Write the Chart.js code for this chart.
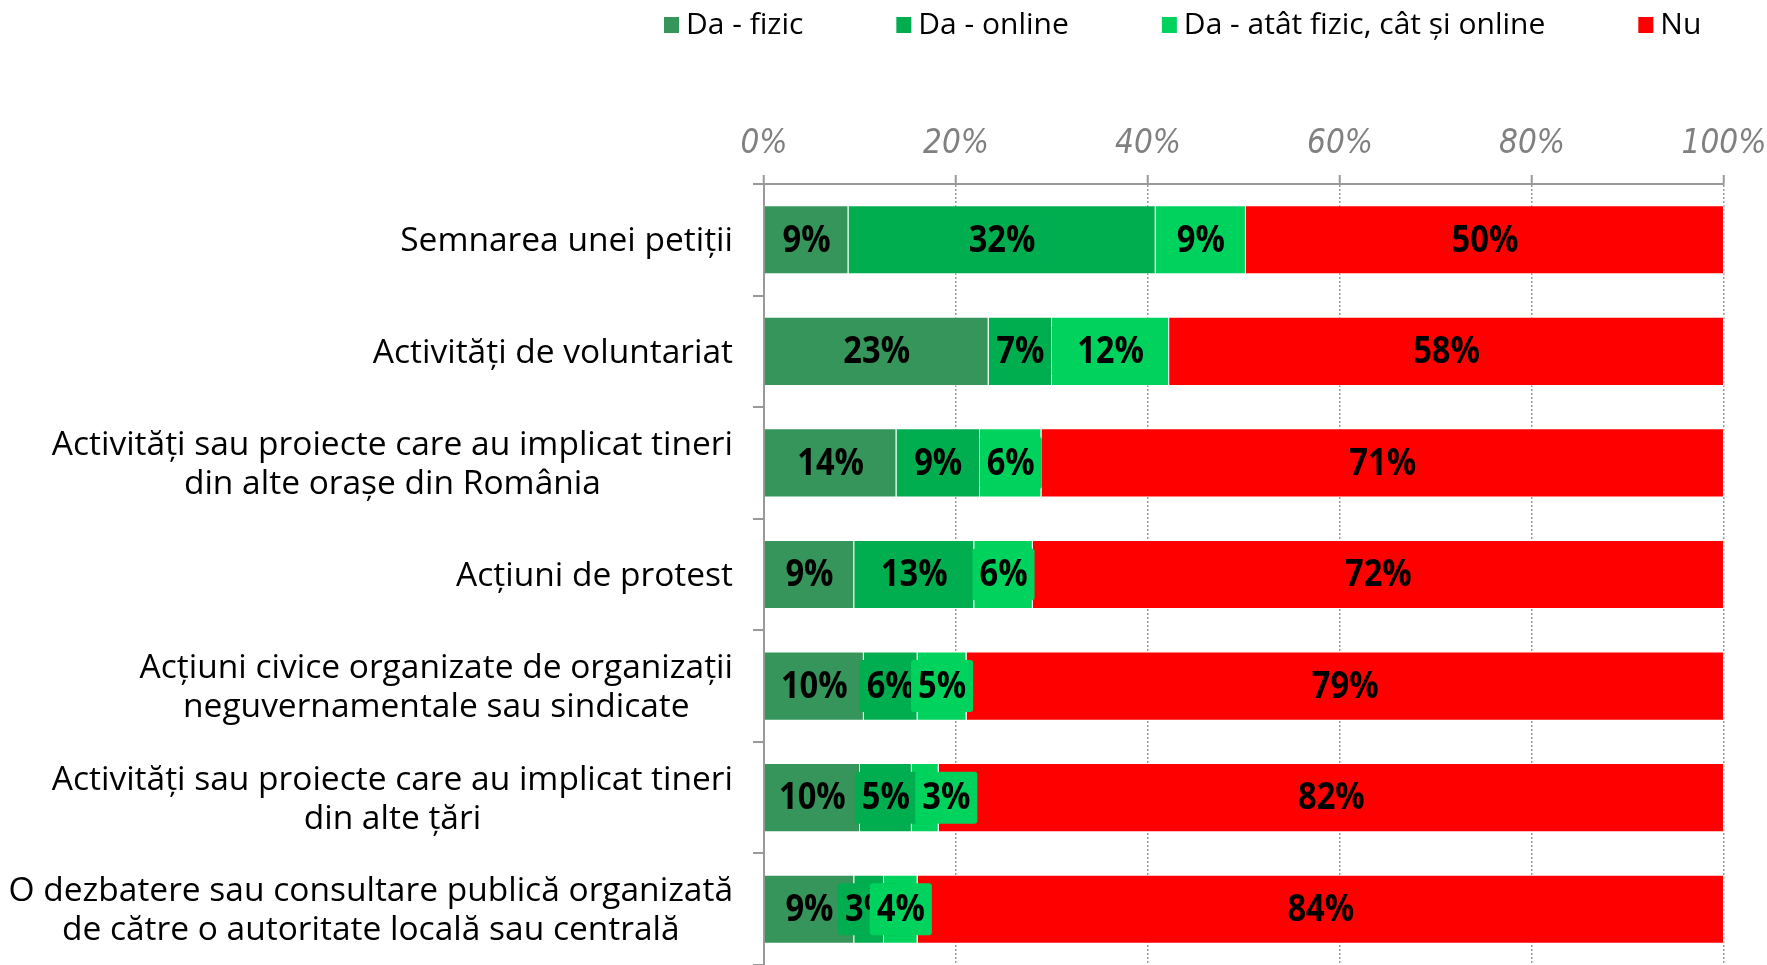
<!DOCTYPE html>
<html>
<head>
<meta charset="utf-8">
<script src="https://cdn.jsdelivr.net/npm/chart.js@4.4.1/dist/chart.umd.min.js"></script>
<style>
  html, body { margin: 0; padding: 0; background: #fff; }
  canvas { display: block; }
</style>
</head>
<body>
<canvas id="participareChart" width="1767" height="965"></canvas>
<script>
var categories = [
  ['Semnarea unei petiții'],
  ['Activități de voluntariat'],
  ['Activități sau proiecte care au implicat tineri', 'din alte orașe din România'],
  ['Acțiuni de protest'],
  ['Acțiuni civice organizate de organizații', 'neguvernamentale sau sindicate'],
  ['Activități sau proiecte care au implicat tineri', 'din alte țări'],
  ['O dezbatere sau consultare publică organizată', 'de către o autoritate locală sau centrală']
];
var seriesNames = ['Da - fizic', 'Da - online', 'Da - atât fizic, cât și online', 'Nu'];
var daFizic = [8.8, 23.4, 13.8, 9.4, 10.4, 10.0, 9.4];
var daOnline = [32.0, 6.6, 8.7, 12.5, 5.6, 5.4, 3.1];
var daAmbele = [9.4, 12.2, 6.4, 6.1, 5.1, 2.8, 3.5];
var nu = [49.8, 57.8, 71.1, 72.0, 78.9, 81.8, 84.0];
var tickValues = [0, 20, 40, 60, 80, 100];

var colors = ['#36955A', '#00AE50', '#00D25E', '#FF0000'];
var narrow = "'DejaVu Sans Condensed', 'DejaVu Sans', sans-serif";
var labelFont = "'Open Sans', sans-serif";
var axisGray = '#999999';
// eticheta mutata manual in original (serie-rand -> px)
var labelShift = { '2-5': 21 };

// etichete de valoare cu fundal in culoarea seriei (text usor comprimat)
var valueLabels = {
  id: 'valueLabels',
  afterDatasetsDraw: function(chart) {
    var ctx = chart.ctx;
    var squeeze = 0.86;
    ctx.save();
    ctx.font = "bold 38px 'Open Sans', sans-serif";
    ctx.textAlign = 'center';
    ctx.textBaseline = 'middle';
    chart.data.datasets.forEach(function(ds, di) {
      chart.getDatasetMeta(di).data.forEach(function(bar, i) {
        var p = bar.getProps(['x', 'y', 'base'], true);
        var cx = (p.x + p.base) / 2 + (labelShift[di + '-' + i] || 0);
        var txt = Math.round(ds.data[i]) + '%';
        var w = ctx.measureText(txt).width * squeeze + 14;
        ctx.fillStyle = ds.backgroundColor;
        ctx.beginPath();
        ctx.roundRect(cx - w / 2, p.y - 26, w, 52, 3);
        ctx.fill();
        ctx.save();
        ctx.translate(cx, p.y + 1);
        ctx.scale(squeeze, 1);
        ctx.fillStyle = '#000';
        ctx.fillText(txt, 0, 0);
        ctx.restore();
      });
    });
    ctx.restore();
  }
};

// etichetele categoriilor: bloc aliniat la dreapta, randuri centrate
var categoryLabels = {
  id: 'categoryLabels',
  afterDraw: function(chart) {
    var ctx = chart.ctx;
    var yScale = chart.scales.y;
    var right = yScale.right - 31;
    ctx.save();
    ctx.font = '33.5px ' + labelFont;
    ctx.fillStyle = '#000';
    ctx.textAlign = 'center';
    ctx.textBaseline = 'middle';
    categories.forEach(function(lines, i) {
      var y = yScale.getPixelForTick(i);
      var maxW = Math.max.apply(null, lines.map(function(l) { return ctx.measureText(l).width; }));
      var cx = right - maxW / 2;
      lines.forEach(function(l, j) {
        ctx.fillText(l, cx, y + 2 + (j - (lines.length - 1) / 2) * 39);
      });
    });
    ctx.restore();
  }
};

var topLegend = {
  id: 'topLegend',
  afterDraw: function(chart) {
    var ctx = chart.ctx;
    var x = 664, y = 25;
    ctx.save();
    ctx.font = '30px ' + labelFont;
    ctx.textBaseline = 'middle';
    ctx.textAlign = 'left';
    seriesNames.forEach(function(name, i) {
      ctx.fillStyle = colors[i];
      ctx.fillRect(x, y - 8, 15, 16);
      ctx.fillStyle = '#000';
      ctx.fillText(name, x + 22, y);
      x += 22 + ctx.measureText(name).width + 93;
    });
    ctx.restore();
  }
};

var series = [daFizic, daOnline, daAmbele, nu];

new Chart(document.getElementById('participareChart').getContext('2d'), {
  type: 'bar',
  data: {
    labels: categories,
    datasets: series.map(function(values, i) {
      return {
        label: seriesNames[i],
        data: values,
        backgroundColor: colors[i],
        borderColor: 'rgba(255,255,255,0.55)',
        borderWidth: 1,
        barPercentage: 0.62,
        categoryPercentage: 1.0
      };
    })
  },
  options: {
    indexAxis: 'y',
    responsive: false,
    animation: false,
    layout: { padding: 0 },
    plugins: {
      legend: { display: false },
      tooltip: { enabled: false }
    },
    scales: {
      x: {
        type: 'linear',
        position: 'top',
        stacked: true,
        min: 0,
        max: 100,
        afterBuildTicks: function(scale) {
          scale.ticks = tickValues.map(function(v) { return { value: v }; });
        },
        afterFit: function(scale) {
          scale.height = 184;
          scale.paddingRight = 43;
        },
        ticks: {
          callback: function(v) { return v + '%'; },
          color: '#808080',
          font: { family: narrow, style: 'italic', size: 33 },
          padding: 11,
          maxRotation: 0
        },
        grid: {
          color: function(c) { return c.tick && c.tick.value === 0 ? 'rgba(0,0,0,0)' : axisGray; },
          lineWidth: 1.5,
          tickLength: 9,
          tickColor: axisGray,
          tickWidth: 2
        },
        border: { color: axisGray, width: 2, dash: [2, 2] }
      },
      y: {
        stacked: true,
        afterFit: function(scale) { scale.width = 764; },
        ticks: { display: false },
        grid: { drawOnChartArea: false, tickLength: 11, color: axisGray, lineWidth: 2 },
        border: { color: axisGray, width: 2 }
      }
    }
  },
  plugins: [valueLabels, categoryLabels, topLegend]
});
</script>
</body>
</html>
